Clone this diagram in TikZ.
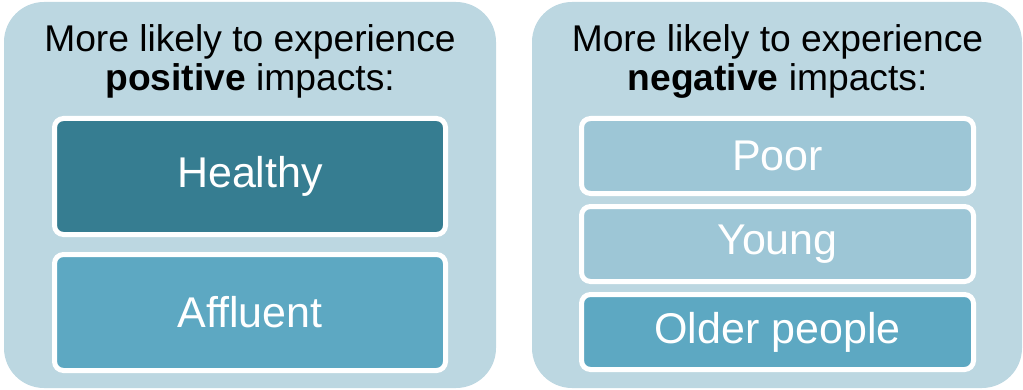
\documentclass[tikz,border=0pt]{standalone}
\usepackage{fontspec}
\setmainfont{Liberation Sans}
\usepackage{tikz}
\usetikzlibrary{positioning}
\definecolor{panelbg}{RGB}{188,215,225}
\definecolor{darkteal}{RGB}{54,125,145}
\definecolor{midteal}{RGB}{93,168,194}
\definecolor{lightteal}{RGB}{157,198,214}

\begin{document}
\begin{tikzpicture}[x=1pt, y=1pt, node distance=15pt]
\tikzset{
  panel/.style={fill=panelbg, rounded corners=40pt, minimum width=492pt, minimum height=386pt, inner sep=0pt},
  heading/.style={align=center, anchor=base, font=\fontsize{37.2}{39}\selectfont, inner sep=0pt},
  groupbox/.style={draw=white, line width=5pt, rounded corners=9pt, text=white, inner sep=0pt, font=\fontsize{43}{48}\selectfont}
}
\useasboundingbox (0,0) rectangle (1023,389);

% left panel
\node(pospanel)[panel] at (250,194) {};
\node(postitle)[heading] at (250,298) {More likely to experience\\\textbf{positive} impacts:};
\node(healthy)[groupbox, fill=darkteal, minimum width=391pt, minimum height=116pt] at (250,212.5) {Healthy};
\node(affluent)[groupbox, fill=midteal, minimum width=391pt, minimum height=116pt, below=of healthy] {Affluent};

% right panel
\node(negpanel)[panel, minimum width=490pt] at (777,194) {};
\node(negtitle)[heading] at (777.5,298) {More likely to experience\\\textbf{negative} impacts:};
\node(poor)[groupbox, fill=lightteal, minimum width=392pt, minimum height=75pt] at (777.5,233) {Poor};
\node(young)[groupbox, fill=lightteal, minimum width=392pt, minimum height=75pt, below=8pt of poor] {Young};
\node(older)[groupbox, fill=midteal, minimum width=392pt, minimum height=75pt, below=8pt of young] {Older people};
\end{tikzpicture}
\end{document}
